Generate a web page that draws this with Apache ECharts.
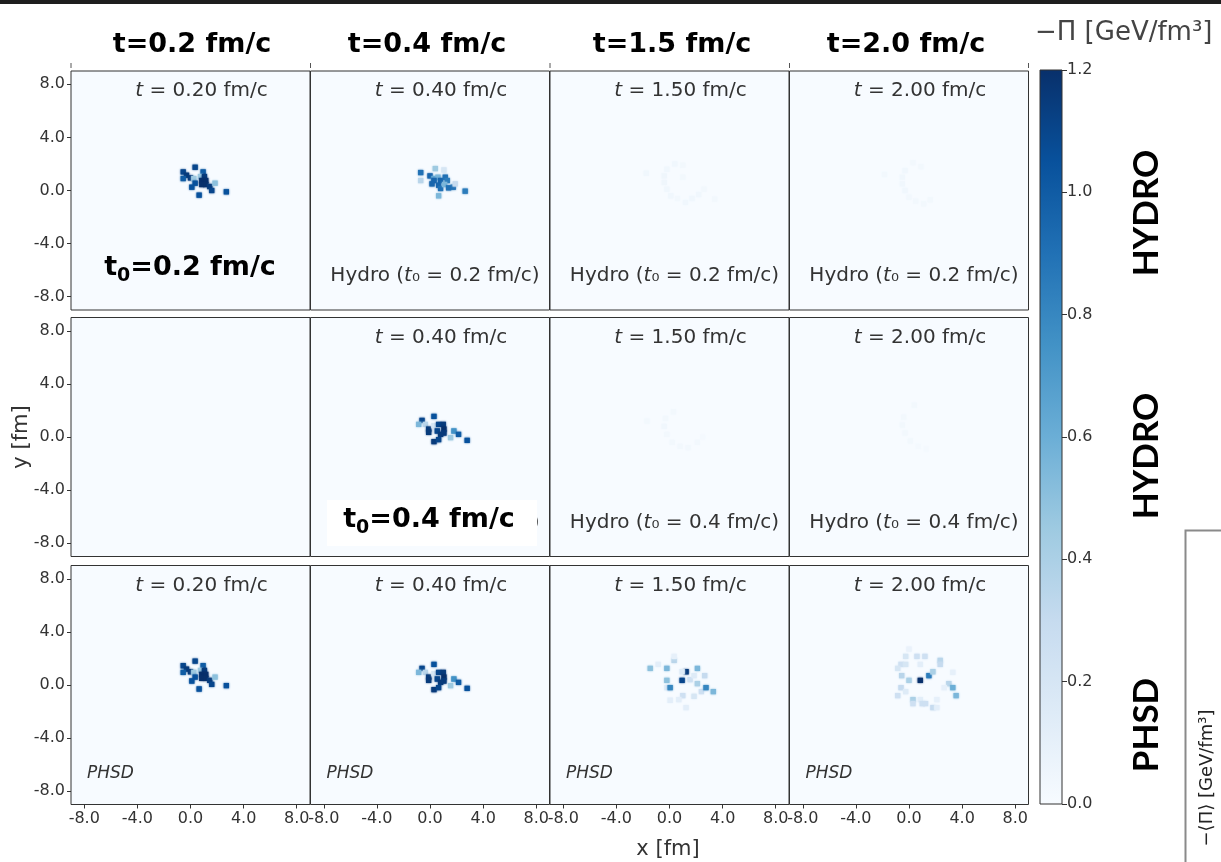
<!DOCTYPE html>
<html>
<head>
<meta charset="utf-8">
<script src="https://cdn.jsdelivr.net/npm/echarts@6/dist/echarts.min.js"></script>
<style>
html,body{margin:0;padding:0;background:#fff}
#chart{width:1221px;height:862px}
</style>
</head>
<body>
<div id="chart"></div>
<script>
// Cell size of the transverse grid, in fm
const CELL = 0.4;

// Column headers, per-panel time labels and row tags
const headerLabels = ['t=0.2 fm/c', 't=0.4 fm/c', 't=1.5 fm/c', 't=2.0 fm/c'];
const panelTimes = ['0.20', '0.40', '1.50', '2.00'];
const rowTags = ['HYDRO', 'HYDRO', 'PHSD'];
const axisTickValues = [-8, -4, 0, 4, 8];
const colorbarMax = 1.2;
const bluesPalette = ['#f7fbff','#deebf7','#c6dbef','#9ecae1','#6baed6','#4292c6','#2171b5','#08519c','#08306b'];

// -Pi [GeV/fm^3] cells: [x fm, y fm, value]
// Hydro started at t0 = 0.2 fm/c
const hydro02_t020 = [
  [0.35,1.75,1.1],[-0.55,1.4,1.1],[0.95,1.4,1.0],[-0.3,1.15,1.15],[0.0,0.95,1.15],
  [0.25,0.9,0.45],[-0.55,0.9,1.0],[0.75,1.05,0.45],[1.05,1.05,1.15],[0.85,0.75,1.2],
  [1.15,0.75,1.2],[0.85,0.45,1.2],[1.15,0.45,1.2],[1.45,0.3,1.15],[1.6,0.0,1.1],
  [1.85,0.55,0.5],[0.35,0.55,1.05],[0.1,0.25,1.05],[0.65,-0.35,1.05],[2.7,-0.1,1.05]
];
const hydro02_t040 = [
  [-0.7,1.35,0.9],[-0.7,0.75,0.35],[0.4,1.65,0.45],[1.05,1.55,0.2],[0.0,1.1,0.95],
  [0.3,0.9,0.6],[0.6,1.0,0.55],[0.3,0.75,0.95],[0.15,0.5,0.95],[0.8,0.75,0.95],
  [0.65,0.4,0.95],[0.8,0.15,0.9],[1.15,1.0,0.9],[1.3,0.75,0.85],[1.1,0.45,0.55],
  [1.4,0.2,0.9],[1.75,0.25,0.9],[1.9,0.5,0.3],[0.65,-0.4,0.55],[2.65,-0.05,0.85]
];
const hydro02_t150 = [
  [-1.75,1.3,0.04],[0.4,2.0,0.04],[1.0,1.9,0.03],[-0.2,1.6,0.04],[-0.4,1.1,0.05],
  [-0.4,0.6,0.05],[-0.2,0.1,0.04],[0.1,-0.4,0.04],[0.6,-0.6,0.03],[1.2,-0.9,0.04],
  [1.7,-0.6,0.04],[2.2,-0.3,0.04],[2.6,0.1,0.03],[1.0,1.0,0.03],[3.4,-0.65,0.03]
];
const hydro02_t200 = [
  [-1.85,1.2,0.03],[0.3,2.1,0.03],[0.9,1.8,0.03],[-0.3,1.5,0.04],[-0.5,1.0,0.04],
  [-0.5,0.5,0.04],[-0.3,0.0,0.04],[0.0,-0.5,0.03],[0.5,-0.8,0.03],[1.1,-1.0,0.03],
  [1.6,-0.7,0.03]
];
// Hydro started at t0 = 0.4 fm/c
const hydro04_t020 = [];
const hydro04_t040 = [
  [0.3,1.55,1.05],[-0.6,1.25,1.1],[-0.85,0.95,0.55],[-0.35,0.95,0.35],[-0.1,0.6,1.15],
  [-0.1,0.35,1.15],[0.3,0.85,0.2],[0.65,0.95,1.1],[1.0,0.95,1.15],[1.05,0.6,1.2],
  [1.05,0.3,1.15],[0.55,0.45,1.1],[0.8,0.2,1.15],[0.3,-0.35,1.15],[0.65,-0.2,1.1],
  [1.8,0.45,0.75],[1.55,-0.05,0.45],[2.15,0.2,1.0],[2.8,-0.25,1.05]
];
const hydro04_t150 = [
  [-1.7,1.2,0.03],[0.3,1.9,0.03],[-0.3,1.4,0.03],[-0.4,0.8,0.04],[-0.2,0.2,0.03],
  [0.2,-0.4,0.03],[0.8,-0.7,0.03],[1.4,-0.8,0.03],[2.1,-0.4,0.03],[2.5,0.0,0.02]
];
const hydro04_t200 = [
  [0.4,2.4,0.03],[-0.4,1.5,0.03],[-0.5,0.9,0.03],[-0.3,0.3,0.03],[0.1,-0.3,0.03],
  [0.7,-0.7,0.02],[1.3,-0.9,0.02]
];
// PHSD
const phsd_t020 = [
  [0.35,1.8,1.1],[-0.55,1.45,1.1],[0.95,1.45,1.0],[-0.3,1.2,1.15],[0.0,1.0,1.15],
  [0.25,0.95,0.45],[-0.55,0.95,1.0],[0.75,1.1,0.45],[1.05,1.1,1.15],[0.85,0.8,1.2],
  [1.15,0.8,1.2],[0.85,0.5,1.2],[1.15,0.5,1.2],[1.45,0.35,1.15],[1.6,0.05,1.1],
  [1.85,0.6,0.5],[0.35,0.6,1.05],[0.1,0.3,1.05],[0.65,-0.3,1.05],[2.7,-0.05,1.05]
];
const phsd_t040 = [
  [0.3,1.55,1.05],[-0.6,1.25,1.1],[-0.85,0.95,0.55],[-0.35,0.95,0.35],[-0.1,0.6,1.15],
  [-0.1,0.35,1.15],[0.3,0.85,0.2],[0.65,0.95,1.1],[1.0,0.95,1.15],[1.05,0.6,1.2],
  [1.05,0.3,1.15],[0.55,0.45,1.1],[0.8,0.2,1.15],[0.3,-0.35,1.15],[0.65,-0.2,1.1],
  [1.8,0.45,0.75],[1.55,-0.05,0.45],[2.15,0.2,1.0],[2.8,-0.25,1.05]
];
const phsd_t150 = [
  [-1.45,1.25,0.5],[-0.85,1.55,0.12],[-0.2,1.25,0.55],[0.35,1.85,0.35],[0.35,2.15,0.1],
  [1.25,1.0,1.15],[0.95,1.0,0.15],[0.95,0.35,1.1],[1.55,0.4,0.25],[1.85,0.7,0.15],
  [2.1,1.25,0.55],[2.65,0.7,0.3],[-0.2,0.35,0.5],[-0.2,-0.2,0.15],[0.05,-0.2,0.8],
  [2.1,0.1,0.4],[2.4,-0.5,0.25],[2.75,-0.2,0.8],[3.3,-0.5,0.55],[1.0,-0.8,0.25],
  [1.85,-0.85,0.2],[0.7,-1.1,0.12],[0.05,-1.15,0.12],[1.25,-1.7,0.12]
];
const phsd_t200 = [
  [0.0,2.7,0.08],[-0.25,2.15,0.2],[0.6,2.15,0.25],[1.2,2.15,0.25],[-0.6,1.55,0.25],
  [-0.25,1.55,0.2],[0.85,1.55,0.12],[2.35,1.85,0.35],[2.35,1.55,0.3],[-0.85,1.25,0.2],
  [-0.55,0.7,0.35],[0.0,0.35,0.4],[0.85,0.35,1.2],[1.5,0.7,0.85],[1.8,1.0,0.4],
  [3.3,0.95,0.1],[3.0,0.1,0.35],[2.65,-0.2,0.1],[3.3,-0.2,0.6],[-0.6,-0.2,0.3],
  [-0.25,-0.5,0.15],[-0.85,-0.8,0.25],[3.55,-0.8,0.55],[2.1,-1.1,0.1],[0.3,-1.1,0.4],
  [0.3,-1.4,0.25],[0.85,-1.1,0.12],[1.0,-1.4,0.25],[1.25,-1.4,0.25],[1.8,-1.7,0.3],
  [2.1,-1.7,0.12]
];

const panelCells = [
  [hydro02_t020, hydro02_t040, hydro02_t150, hydro02_t200],
  [hydro04_t020, hydro04_t040, hydro04_t150, hydro04_t200],
  [phsd_t020, phsd_t040, phsd_t150, phsd_t200]
];
// Which panels carry the "t = ..." tag and which footnote
const showTimeTag = [[true,true,true,true],[false,true,true,true],[true,true,true,true]];
const footNotes = [
  [null, 'hydro02', 'hydro02', 'hydro02'],
  [null, 'hydro04', 'hydro04', 'hydro04'],
  ['phsd', 'phsd', 'phsd', 'phsd']
];

// Layout (px)
const COL_LEFT = [71, 310.5, 550, 789.5];
const ROW_TOP = [71, 317.5, 565.5];
const SIZE = 239;
const TEXT_FONT = 'DejaVu Sans';
const BOLD_FONT = 'DejaVu Sans';
const TAG_FONT = 'Lato';

const chart = echarts.init(document.getElementById('chart'), null, {renderer: 'canvas'});

function renderCell(params, api) {
  const c = api.coord([api.value(0), api.value(1)]);
  const s = api.size([CELL, CELL]);
  const col = api.visual('color');
  return {
    type: 'rect',
    shape: {x: c[0] - s[0] / 2, y: c[1] - s[1] / 2, width: s[0], height: s[1]},
    style: {fill: col, shadowBlur: 2, shadowColor: col}
  };
}

function textEl(x, y, text, opts) {
  const o = opts || {};
  return {
    type: 'text', x: x, y: y, rotation: o.rotation || 0, z: o.z || 10,
    style: Object.assign({
      text: text,
      fontSize: 17, fontFamily: TEXT_FONT, fill: '#333',
      align: o.align || 'center', verticalAlign: 'middle',
      textAlign: o.align || 'center', textVerticalAlign: 'middle'
    }, o.style || {})
  };
}

const grids = [], xAxes = [], yAxes = [], series = [], graphics = [];
const cellSeriesIdx = [];
const italicRich = {i: {fontStyle: 'italic', fontSize: 20, fontFamily: TEXT_FONT, fill: '#333'}};

panelCells.forEach((row, r) => row.forEach((cells, c) => {
  const idx = grids.length;
  grids.push({
    left: COL_LEFT[c], top: ROW_TOP[r], width: SIZE, height: SIZE,
    show: true, backgroundColor: '#f7fbff', borderColor: '#333', borderWidth: 1
  });
  xAxes.push({
    gridIndex: idx, type: 'value', min: -9, max: 9, position: 'bottom',
    axisLine: {show: false, onZero: false}, splitLine: {show: false},
    axisTick: {show: r === 2, length: 4, lineStyle: {color: '#333'}, customValues: axisTickValues},
    axisLabel: {show: r === 2, customValues: axisTickValues, formatter: v => v.toFixed(1),
      fontSize: 16, color: '#333', fontFamily: TEXT_FONT, margin: 6}
  });
  yAxes.push({
    gridIndex: idx, type: 'value', min: -9, max: 9, position: 'left',
    axisLine: {show: false, onZero: false}, splitLine: {show: false},
    axisTick: {show: c === 0, length: 4, lineStyle: {color: '#333'}, customValues: axisTickValues},
    axisLabel: {show: c === 0, customValues: axisTickValues, formatter: v => v.toFixed(1),
      fontSize: 16, color: '#333', fontFamily: TEXT_FONT, margin: 6}
  });
  cellSeriesIdx.push(series.length);
  series.push({
    type: 'custom', xAxisIndex: idx, yAxisIndex: idx, data: cells,
    encode: {x: 0, y: 1}, renderItem: renderCell, clip: true, silent: true
  });

  const cx = COL_LEFT[c] + SIZE / 2;
  if (showTimeTag[r][c]) {
    graphics.push(textEl(cx + 11, ROW_TOP[r] + 20, '{i|t} = ' + panelTimes[c] + ' fm/c', {
      style: {fontSize: 20, rich: italicRich}
    }));
  }
  const fn = footNotes[r][c];
  if (fn === 'hydro02' || fn === 'hydro04') {
    const t0 = fn === 'hydro02' ? '0.2' : '0.4';
    graphics.push(textEl(cx + 5, ROW_TOP[r] + SIZE - 34, 'Hydro ({i|t}₀ = ' + t0 + ' fm/c)', {
      style: {fontSize: 20, rich: italicRich}
    }));
  } else if (fn === 'phsd') {
    graphics.push(textEl(COL_LEFT[c] + 16, ROW_TOP[r] + SIZE - 31, 'PHSD', {
      align: 'left', style: {fontStyle: 'italic', fontSize: 17}
    }));
  }
}));

// Colorbar axis
const cbIdx = grids.length;
grids.push({left: 1040, top: 70, width: 22, height: 734, show: false});
xAxes.push({gridIndex: cbIdx, type: 'value', show: false, min: 0, max: 1});
yAxes.push({
  gridIndex: cbIdx, type: 'value', position: 'right', min: 0, max: colorbarMax, interval: 0.2,
  axisLine: {show: false, onZero: false}, splitLine: {show: false},
  axisTick: {show: true, length: 5, lineStyle: {color: '#333'}},
  axisLabel: {formatter: v => v.toFixed(1), fontSize: 16, color: '#333', fontFamily: TEXT_FONT, margin: 5}
});
series.push({type: 'scatter', xAxisIndex: cbIdx, yAxisIndex: cbIdx, data: []});

// Colorbar ramp
graphics.push({
  type: 'rect', z: 5,
  shape: {x: 1040, y: 70, width: 22, height: 734},
  style: {
    fill: new echarts.graphic.LinearGradient(0, 1, 0, 0,
      bluesPalette.map((col, i) => ({offset: i / (bluesPalette.length - 1), color: col}))),
    stroke: '#333', lineWidth: 1
  }
});

// Dark strip along the top edge and small marks under the headers
graphics.push({type: 'rect', z: 20, shape: {x: 0, y: 0, width: 1221, height: 4}, style: {fill: '#1e1e1e'}});
[71, 310.5, 550, 789.5, 1028.5].forEach(x => {
  graphics.push({type: 'line', z: 10, shape: {x1: x, y1: 63, x2: x, y2: 68}, style: {stroke: '#555', lineWidth: 1}});
});

// Column headers
const headerX = [192, 427, 672, 906];
headerLabels.forEach((t, i) => {
  graphics.push(textEl(headerX[i], 45, t, {style: {fontSize: 27, fontWeight: 'bold', fontFamily: BOLD_FONT, fill: '#000'}}));
});

// Colorbar title
graphics.push(textEl(1035, 33, '−Π [GeV/fm³]', {align: 'left', style: {fontSize: 26, fill: '#444'}}));

// Row tags
const tagY = [213, 456, 725];
rowTags.forEach((t, i) => {
  graphics.push(textEl(1147, tagY[i], t, {rotation: Math.PI / 2,
    style: {fontSize: 35, fontWeight: 'bold', fontFamily: TAG_FONT, fill: '#000'}}));
});

// Axis titles
graphics.push(textEl(22, 437, 'y [fm]', {rotation: Math.PI / 2, style: {fontSize: 21}}));
graphics.push(textEl(668, 850, 'x [fm]', {style: {fontSize: 21}}));

// Side box with averaged quantity label
graphics.push({type: 'polyline', z: 10, shape: {points: [[1185.5, 862], [1185.5, 530.5], [1221, 530.5]]},
  style: {stroke: '#8a8a8a', lineWidth: 2, fill: null}});
graphics.push(textEl(1207, 778, '−⟨Π⟩ [GeV/fm³]', {rotation: Math.PI / 2, style: {fontSize: 18, fill: '#222'}}));

// Start-time callouts
const boldRich = {
  m: {fontSize: 27, fontWeight: 'bold', fontFamily: BOLD_FONT, fill: '#000', lineHeight: 36},
  s: {fontSize: 19, fontWeight: 'bold', fontFamily: BOLD_FONT, fill: '#000', lineHeight: 14, verticalAlign: 'bottom'}
};
graphics.push(textEl(190, 268, '{m|t}{s|0}{m|=0.2 fm/c}', {z: 12, style: {rich: boldRich}}));
graphics.push({type: 'rect', z: 11, shape: {x: 327, y: 500, width: 210, height: 46}, style: {fill: '#fff'}});
graphics.push(textEl(429, 520, '{m|t}{s|0}{m|=0.4 fm/c}', {z: 12, style: {rich: boldRich}}));

chart.setOption({
  animation: false,
  backgroundColor: '#fff',
  grid: grids,
  xAxis: xAxes,
  yAxis: yAxes,
  visualMap: {
    type: 'continuous', show: false, min: 0, max: colorbarMax, dimension: 2,
    seriesIndex: cellSeriesIdx, inRange: {color: bluesPalette}
  },
  series: series,
  graphic: graphics
});
</script>
</body>
</html>
